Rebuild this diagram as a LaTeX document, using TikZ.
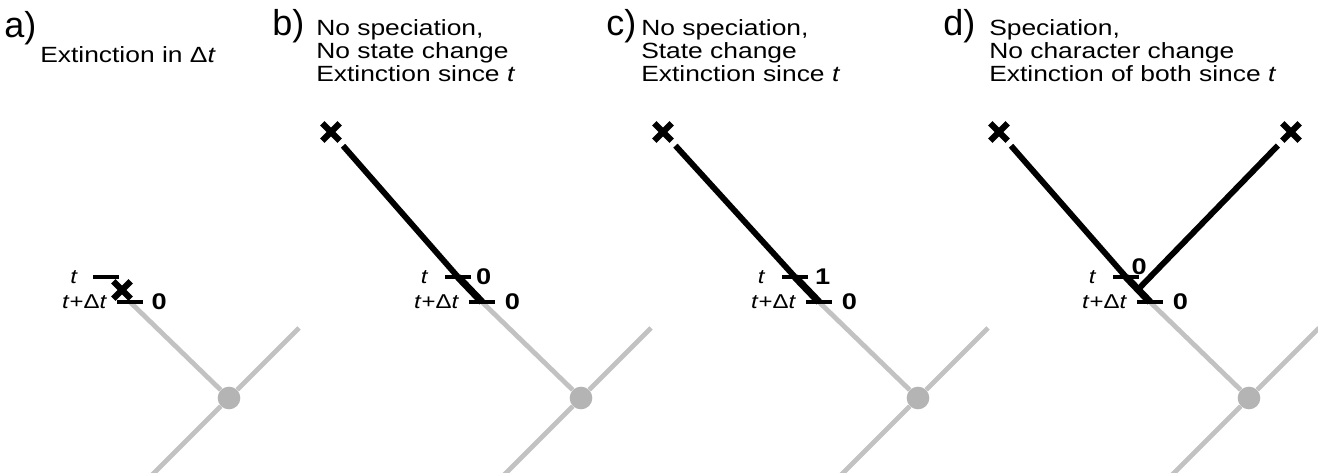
\documentclass[tikz,border=0pt]{standalone}
\usepackage{fontspec}
\setmainfont{Liberation Sans}[FakeStretch=1.2]
\newfontfamily\letterfont{Liberation Sans}
\usetikzlibrary{positioning,shapes.misc,calc}
\definecolor{branchgray}{HTML}{C2C2C2}
\definecolor{nodegray}{HTML}{B4B4B4}
\tikzset{
  panellabel/.style={anchor=base west, inner sep=0pt, font=\letterfont\fontsize{27}{27}\selectfont},
  caption/.style={anchor=north west, inner sep=0pt, align=left, font=\fontsize{16.5}{17.25}\selectfont},
  lineage/.style={line width=4.4pt, draw=black},
  shortlineage/.style={line width=5.4pt, draw=black},
  branch/.style={line width=3.6pt, draw=branchgray},
  nodedot/.style={circle, fill=nodegray, inner sep=0pt, minimum size=17pt},
  extinct/.style={cross out, draw=black, line width=4.6pt, inner sep=0pt, minimum size=8.5pt},
  tickmark/.style={rectangle, fill=black, inner sep=0pt, minimum width=19.5pt, minimum height=2.6pt},
  timelabel/.style={inner sep=0pt, font=\fontsize{15}{15}\selectfont},
  statelabel/.style={inner sep=0pt, font=\fontsize{17}{17}\selectfont\bfseries}
}

\begin{document}
\begin{tikzpicture}[x=0.75pt, y=-0.75pt]
  \clip (0,0) rectangle (1318,473);

  % a) extinction in the interval
  \node[panellabel] (la) at (4,38) {a)};
  \node[caption] (ca) at (40,46) {Extinction in Δ\textit{t}};
  \coordinate (Da) at (130,302);
  \node[nodedot] (Na) at (229,398) {};
  \coordinate (Ra) at ($(Na)+(70,-70)$);
  \coordinate (La) at ($(Na)+(-100,100)$);
  \draw[branch] (Da) -- (Na);
  \draw[branch] (Na) -- (Ra);
  \draw[branch] (Na) -- (La);
  \node[tickmark] (ta) at (106,277) {};
  \node[tickmark] (dta) at (Da) {};
  \node[extinct] (xa) at (122,290) {};
  \node[timelabel, left=11pt of ta] {\textit{t}};
  \node[timelabel, left=7pt of dta] {\textit{t}+Δ\textit{t}};
  \node[statelabel, right=6pt of dta] {0};

  % b) no speciation, no state change
  \node[panellabel] (lb) at (272,36) {b)};
  \node[caption] (cb) at (316,19) {No speciation,\\No state change\\Extinction since \textit{t}};
  \coordinate (Tb) at (458,277);
  \coordinate (Db) at (482,302);
  \node[nodedot] (Nb) at (581,398) {};
  \coordinate (Rb) at ($(Nb)+(70,-70)$);
  \coordinate (Lb) at ($(Nb)+(-100,100)$);
  \draw[branch] (Db) -- (Nb);
  \draw[branch] (Nb) -- (Rb);
  \draw[branch] (Nb) -- (Lb);
  \node[extinct] (xb) at (331,132) {};
  \draw[lineage, shorten <=5pt] (xb) -- (Tb);
  \draw[shortlineage] (Tb) -- (Db);
  \node[tickmark] (tb) at (Tb) {};
  \node[tickmark] (dtb) at (Db) {};
  \node[timelabel, left=12pt of tb] {\textit{t}};
  \node[statelabel, right=3.5pt of tb] {0};
  \node[timelabel, left=7pt of dtb] {\textit{t}+Δ\textit{t}};
  \node[statelabel, right=7pt of dtb] {0};

  % c) no speciation, state change
  \node[panellabel] (lc) at (606,36) {c)};
  \node[caption] (cc) at (641,19) {No speciation,\\State change\\Extinction since \textit{t}};
  \coordinate (Tc) at (795,277);
  \coordinate (Dc) at (819,302);
  \node[nodedot] (Nc) at (918,398) {};
  \coordinate (Rc) at ($(Nc)+(70,-70)$);
  \coordinate (Lc) at ($(Nc)+(-100,100)$);
  \draw[branch] (Dc) -- (Nc);
  \draw[branch] (Nc) -- (Rc);
  \draw[branch] (Nc) -- (Lc);
  \node[extinct] (xc) at (663,132) {};
  \draw[lineage, shorten <=5pt] (xc) -- (Tc);
  \draw[shortlineage] (Tc) -- (Dc);
  \node[tickmark] (tc) at (Tc) {};
  \node[tickmark] (dtc) at (Dc) {};
  \node[timelabel, left=12pt of tc] {\textit{t}};
  \node[statelabel, right=5pt of tc] {1};
  \node[timelabel, left=7pt of dtc] {\textit{t}+Δ\textit{t}};
  \node[statelabel, right=7pt of dtc] {0};

  % d) speciation, no character change
  \node[panellabel] (ld) at (943,36) {d)};
  \node[caption] (cd) at (989,19) {Speciation,\\No character change\\Extinction of both since \textit{t}};
  \coordinate (Td) at (1126,277);
  \coordinate (Dd) at (1150,302);
  \coordinate (Sd) at ($(Td)!0.5!(Dd)$);
  \node[nodedot] (Nd) at (1249,398) {};
  \coordinate (Rd) at ($(Nd)+(70,-70)$);
  \coordinate (Ld) at ($(Nd)+(-100,100)$);
  \draw[branch] (Dd) -- (Nd);
  \draw[branch] (Nd) -- (Rd);
  \draw[branch] (Nd) -- (Ld);
  \node[extinct] (xd1) at (999,132) {};
  \node[extinct] (xd2) at (1291,132) {};
  \draw[lineage, shorten <=5pt] (xd1) -- (Td);
  \draw[lineage, shorten <=5pt] (xd2) -- (Sd);
  \draw[shortlineage] (Td) -- (Dd);
  \node[tickmark] (td) at (Td) {};
  \node[tickmark] (dtd) at (Dd) {};
  \node[timelabel, left=12pt of td] {\textit{t}};
  \node[statelabel, above=0pt of td.north east] {0};
  \node[timelabel, left=7pt of dtd] {\textit{t}+Δ\textit{t}};
  \node[statelabel, right=7pt of dtd] {0};
\end{tikzpicture}
\end{document}
